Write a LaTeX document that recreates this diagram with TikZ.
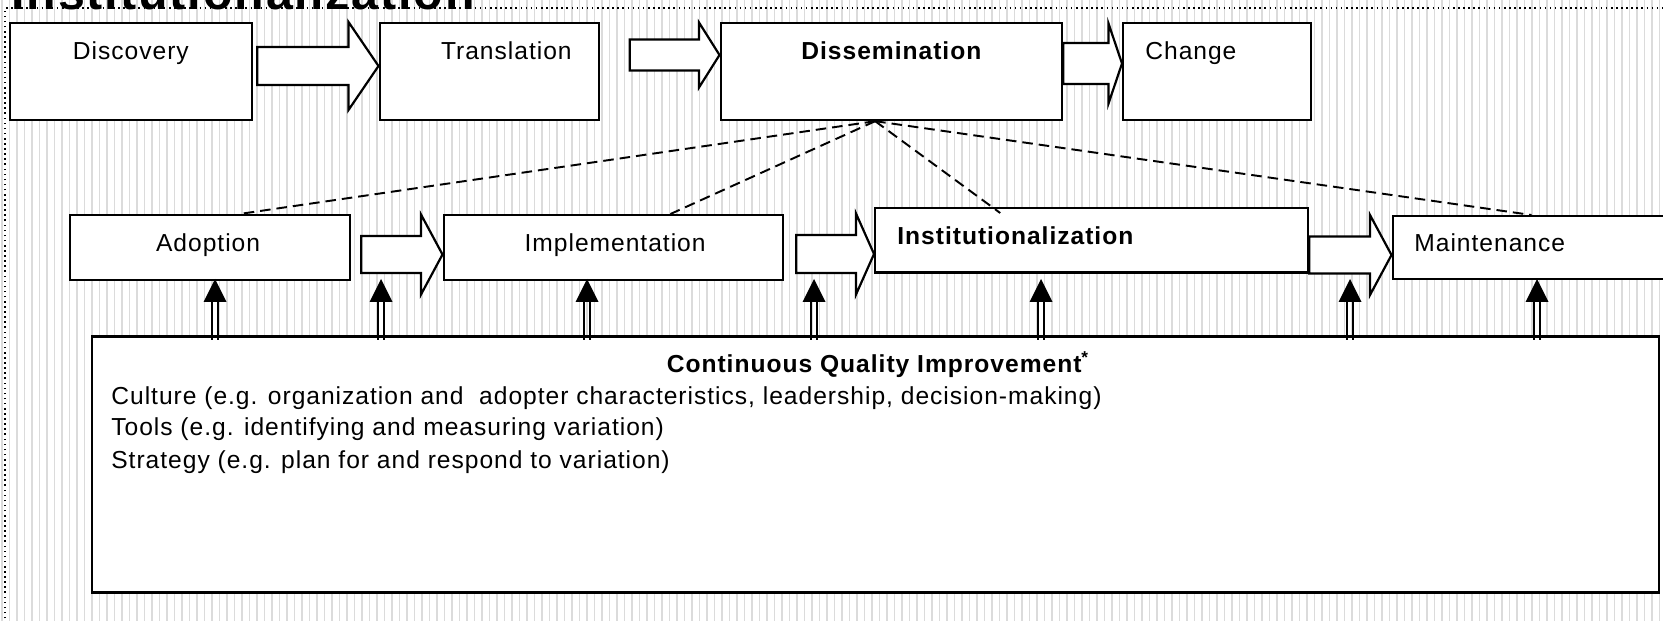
\documentclass[tikz,border=0pt]{standalone}
\usepackage{fontspec}
\setmainfont{Liberation Sans}[LetterSpace=4.0]
\usetikzlibrary{calc, positioning}
\def\px{0.02cm}
\tikzset{
    box/.style={rectangle, draw=black, line width=1.25pt, fill=white, inner sep=0pt, anchor=north west},
    lbl/.style={inner sep=0pt, anchor=base, font=\fontsize{14}{17}\selectfont},
    lblb/.style={lbl, font=\fontsize{14}{17}\selectfont\bfseries},
    blockarrow/.style={draw=black, line width=1.25pt, fill=white, line join=miter},
    spoke/.style={draw=black, line width=1.1pt, dash pattern=on 6pt off 3.4pt},
    twin/.style={draw=black, line width=1.1pt},
    stripe/.style={draw=gray!28, line width=1.1pt}
}
\begin{document}
\begin{tikzpicture}[x=\px, y=-\px]
    \path[use as bounding box, clip] (0,0) rectangle (1663,621);
    % striped page background
    \fill[white] (0,0) rectangle (1663,621);
    \foreach \x in {2,9.5,...,1663}
        \draw[stripe] (\x,0) -- (\x,621);
    \draw[dotted, line width=0.9pt] (5,700) -- (5,8) -- (1700,8);
    \node[inner sep=0pt, anchor=base west, font=\fontsize{27.5}{30}\selectfont\bfseries] (title) at (11,10) {Institutionalization};

    % first row
    \node (disc) [box, minimum width=242.5*\px, minimum height=97*\px] at (8.5,22) {};
    \node (trans) [box, minimum width=219.5*\px, minimum height=97*\px] at (378.5,22) {};
    \node (dis) [box, minimum width=341.5*\px, minimum height=97*\px] at (719.5,22) {};
    \node (chg) [box, minimum width=187.5*\px, minimum height=97*\px] at (1122,22) {};
    \node (disc-l) [lbl] at ($(disc.north)+(0,38)$) {Discovery};
    \node (trans-l) [lbl] at ($(trans.north)+(17,38)$) {Translation};
    \node (dis-l) [lblb] at ($(dis.north)+(0,38)$) {Dissemination};
    \node (chg-l) [lbl, anchor=base west] at ($(chg.north west)+(23,38)$) {Change};

    % second row
    \node (adopt) [box, minimum width=280*\px, minimum height=65*\px] at (69,214) {};
    \node (impl) [box, minimum width=339*\px, minimum height=65*\px] at (442.5,214) {};
    \node (inst) [box, minimum width=433*\px, minimum height=64.5*\px] at (874,207) {};
    \node (maint) [box, minimum width=300*\px, minimum height=63*\px] at (1391.5,215) {};
    \node (adopt-l) [lbl] at ($(adopt.north)+(-2,38)$) {Adoption};
    \node (impl-l) [lbl] at ($(impl.north)+(2,38)$) {Implementation};
    \node (inst-l) [lblb, anchor=base west] at ($(inst.north west)+(23,37.5)$) {Institutionalization};
    \node (maint-l) [lbl, anchor=base west] at ($(maint.north west)+(22.5,37)$) {Maintenance};

    % block arrows between the boxes
    \foreach \src/\dst/\gap/\cy/\sh/\hh/\hl in {disc/trans/4/66/19/44/30, trans/dis/29.5/55/15.5/32.5/20.5,
        dis/chg/0/63.5/20.5/40/13.5, adopt/impl/10/254.5/18.5/40/21.5,
        impl/inst/12.5/254/19/40.5/18, inst/maint/0/255/18.5/40/21.5} {
        \coordinate (ya) at (0,\cy);
        \draw[blockarrow] ($(\src.east |- ya)+(\gap,-\sh)$) -- ($(\dst.west |- ya)+(-\hl,-\sh)$)
            -- ++(0,\sh-\hh) -- (\dst.west |- ya) -- ++(-\hl,\hh) -- ++(0,\sh-\hh)
            -- ($(\src.east |- ya)+(\gap,\sh)$) -- cycle;
    }

    % dashed spokes from dissemination
    \coordinate (hub) at ($(dis.south west)!0.453!(dis.south east)$);
    \coordinate (s-adopt) at ($(adopt.north west)!0.604!(adopt.north east)$);
    \coordinate (s-impl) at ($(impl.north west)!0.668!(impl.north east)$);
    \coordinate (s-inst) at ($(inst.north west)!0.29!(inst.north east)+(0,6)$);
    \coordinate (s-maint) at ($(maint.north west)+(140,0)$);
    \foreach \t in {s-adopt, s-impl, s-inst, s-maint}
        \draw[spoke] (hub) -- (\t);

    % quality improvement box
    \node (cqi) [box, line width=1.6pt, minimum width=1567*\px, minimum height=256*\px] at (90.5,335) {};
    \node (cqi-t) [lblb] at ($(cqi.north)+(2.5,38)$) {Continuous Quality Improvement\textsuperscript{*}};
    \node (cqi-1) [lbl, anchor=base west] at ($(cqi.north west)+(20.5,69)$) {Culture (e.g. organization and\ \ adopter characteristics, leadership, decision-making)};
    \node (cqi-2) [lbl, anchor=base west] at ($(cqi.north west)+(20.5,101)$) {Tools (e.g. identifying and measuring variation)};
    \node (cqi-3) [lbl, anchor=base west] at ($(cqi.north west)+(20.5,133)$) {Strategy (e.g. plan for and respond to variation)};

    % double-shaft arrows up from the box
    \foreach \x [count=\i] in {215,381,587,814,1041,1350,1537} {
        \coordinate (up\i) at (\x,279);
        \fill (up\i) -- ++(-11.5,23) -- ++(23,0) -- cycle;
        \draw[twin] ($(up\i)+(-2.8,22)$) -- ($(up\i |- cqi.north)+(-2.8,5)$);
        \draw[twin] ($(up\i)+(2.8,22)$) -- ($(up\i |- cqi.north)+(2.8,5)$);
    }
\end{tikzpicture}
\end{document}
